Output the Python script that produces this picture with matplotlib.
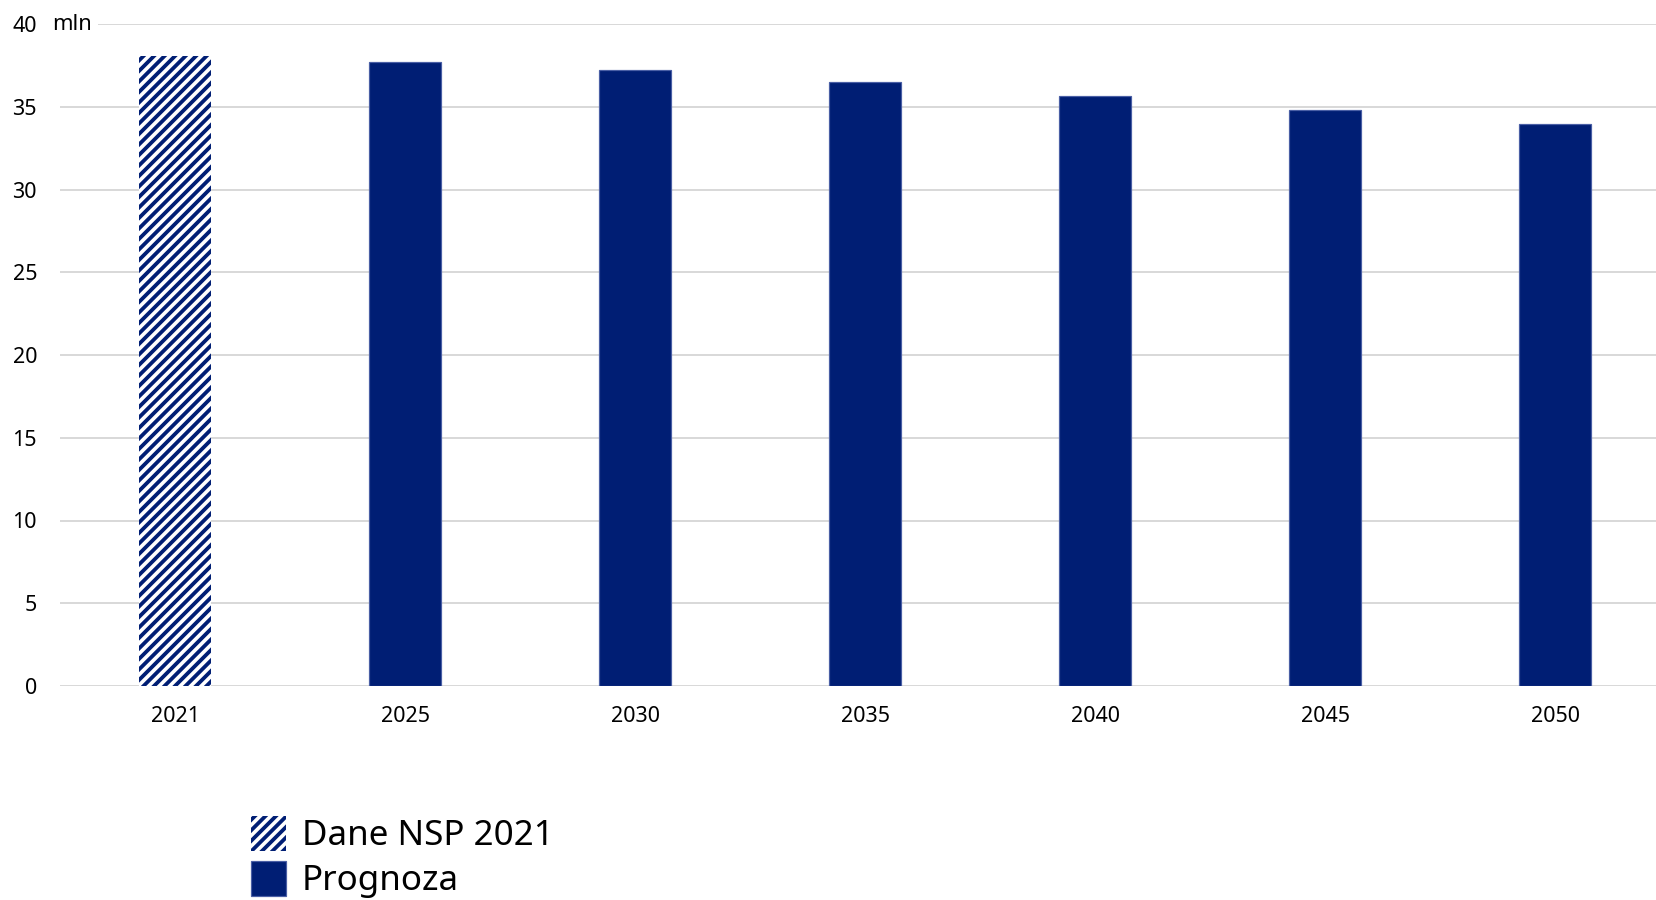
import matplotlib
matplotlib.use("Agg")
import matplotlib.pyplot as plt

years = ["2021", "2025", "2030", "2035", "2040", "2045", "2050"]
values = [38.05, 37.7, 37.2, 36.5, 35.65, 34.8, 33.95]
yticks = [0, 5, 10, 15, 20, 25, 30, 35, 40]
legend_labels = ["Dane NSP 2021", "Prognoza"]

DPI = 126
W, H = 1656, 900
navy = "#001E74"
grid_c = "#d9d9d9"


def pt(px):
    return px * 72.0 / DPI


plt.rcParams["font.family"] = ["Noto Sans", "DejaVu Sans"]
plt.rcParams["hatch.linewidth"] = pt(3.8)

fig = plt.figure(figsize=(W / DPI, H / DPI), dpi=DPI)
ax = fig.add_axes([60 / W, 1 - 686 / H, 1610 / W, (686 - 24) / H])

x = list(range(len(years)))
bw = 0.313
hist = ax.bar(x[0], values[0], width=bw, color="white", edgecolor=navy,
              hatch="////", linewidth=0, zorder=3, label=legend_labels[0])
prog = ax.bar(x[1:], values[1:], width=bw, color=navy, edgecolor="#4a5fa5",
              linewidth=pt(1.2), zorder=3, label=legend_labels[1])

ax.set_xlim(-0.5, len(years) - 0.5)
ax.set_ylim(0, 40)
ax.set_yticks(yticks)
ax.set_xticks(x)
ax.set_xticklabels(years)
ax.tick_params(axis="both", length=0, labelsize=pt(21.5), colors="black")
ax.tick_params(axis="y", pad=pt(23))
ax.tick_params(axis="x", pad=pt(20))
ax.grid(axis="y", color=grid_c, linewidth=pt(2), zorder=0)
ax.set_axisbelow(True)
for s in ax.spines.values():
    s.set_visible(False)

# unit label next to the top tick
ax.text(52 / W, 1 - 25 / H, "mln", transform=fig.transFigure, fontsize=pt(22),
        va="center", ha="left",
        bbox=dict(facecolor="white", edgecolor="none", pad=pt(6)), zorder=5)

fig.legend(handles=[hist, prog], labels=legend_labels, loc="upper left",
           bbox_to_anchor=(251 / W, 1 - 816 / H), frameon=False,
           fontsize=pt(35), handlelength=35 / 35, handleheight=1.15,
           handletextpad=0.45, labelspacing=0.22, borderpad=0, borderaxespad=0)

fig.savefig("out.png", dpi=DPI)
